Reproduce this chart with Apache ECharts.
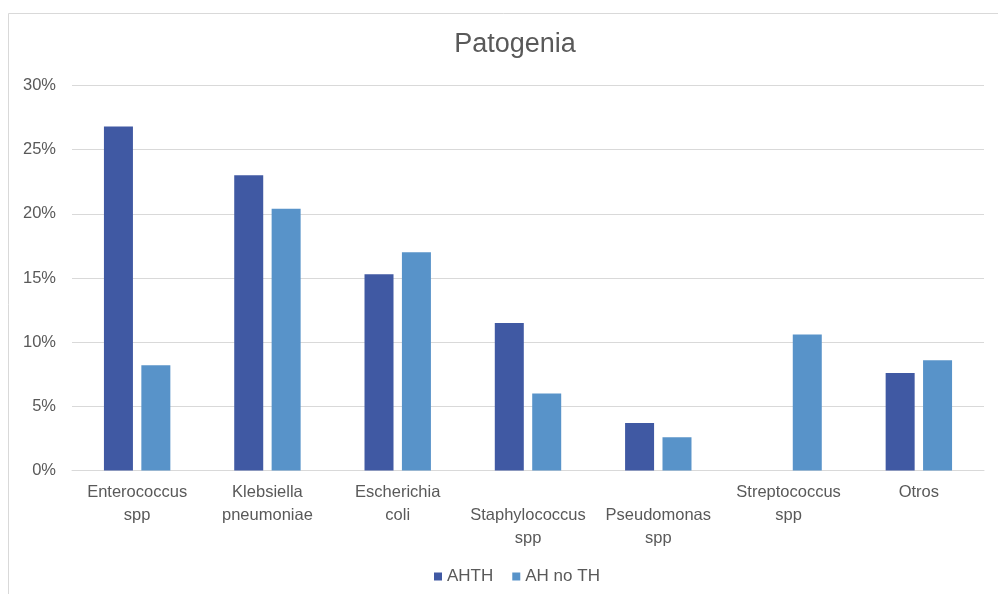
<!DOCTYPE html>
<html>
<head>
<meta charset="utf-8">
<script src="https://cdn.jsdelivr.net/npm/echarts@6/dist/echarts.min.js"></script>
<style>
  html, body { margin: 0; padding: 0; background: #ffffff; }
  #chart { width: 998px; height: 594px; }
</style>
</head>
<body>
<div id="chart"></div>
<script>
// Pathogen categories (x axis)
const categories = [
  'Enterococcus\nspp',
  'Klebsiella\npneumoniae',
  'Escherichia\ncoli',
  'Staphylococcus\nspp',
  'Pseudomonas\nspp',
  'Streptococcus\nspp',
  'Otros'
];

// Share of isolates per group, in percent
const seriesNames = ['AHTH', 'AH no TH'];
const ahth   = [26.8, 23.0, 15.3, 11.5, 3.7, 0, 7.6];
const ahNoTh = [8.2, 20.4, 17.0, 6.0, 2.6, 10.6, 8.6];

// Y axis ticks
const yMin = 0, yMax = 30, yStep = 5;

const textColor = '#595959';
const font = 'Liberation Sans, Arial, sans-serif';

const chart = echarts.init(document.getElementById('chart'), null, { renderer: 'canvas' });

chart.setOption({
  backgroundColor: '#ffffff',
  animation: false,
  graphic: [{
    type: 'rect',
    shape: { x: 8.5, y: 13.5, width: 1000, height: 600 },
    style: { fill: 'none', stroke: '#d9d9d9', lineWidth: 1 },
    silent: true,
    z: -1
  }],
  title: {
    text: 'Patogenia',
    left: 510,
    textAlign: 'center',
    top: 26,
    textStyle: { color: textColor, fontSize: 27, fontWeight: 'normal', fontFamily: font }
  },
  legend: {
    data: seriesNames,
    left: 429,
    top: 563,
    icon: 'rect',
    itemWidth: 8,
    itemHeight: 8,
    itemGap: 19,
    itemStyle: { borderWidth: 0 },
    textStyle: { color: textColor, fontSize: 17, fontFamily: font }
  },
  grid: { left: 72, right: 14, top: 85.5, bottom: 123.5, containLabel: false },
  xAxis: {
    type: 'category',
    data: categories,
    axisLine: { show: true, lineStyle: { color: '#d9d9d9', width: 1 } },
    axisTick: { show: false },
    axisLabel: {
      interval: 0,
      margin: 10,
      color: textColor,
      fontSize: 16.5,
      fontFamily: font,
      lineHeight: 23,
      // Two long labels sit one line lower so they do not collide
      formatter: (value, idx) => (idx === 3 || idx === 4) ? '\n' + value : value
    }
  },
  yAxis: {
    type: 'value',
    min: yMin,
    max: yMax,
    interval: yStep,
    axisLine: { show: false },
    axisTick: { show: false },
    splitLine: { lineStyle: { color: '#d9d9d9', width: 1 } },
    axisLabel: {
      margin: 16,
      color: textColor,
      fontSize: 16.5,
      fontFamily: font,
      formatter: v => v + '%'
    }
  },
  series: [
    {
      name: seriesNames[0],
      type: 'bar',
      data: ahth,
      barWidth: 29,
      barGap: '29%',
      itemStyle: { color: '#4059a3' }
    },
    {
      name: seriesNames[1],
      type: 'bar',
      data: ahNoTh,
      barWidth: 29,
      barGap: '29%',
      itemStyle: { color: '#5893c9' }
    }
  ]
});
</script>
</body>
</html>
